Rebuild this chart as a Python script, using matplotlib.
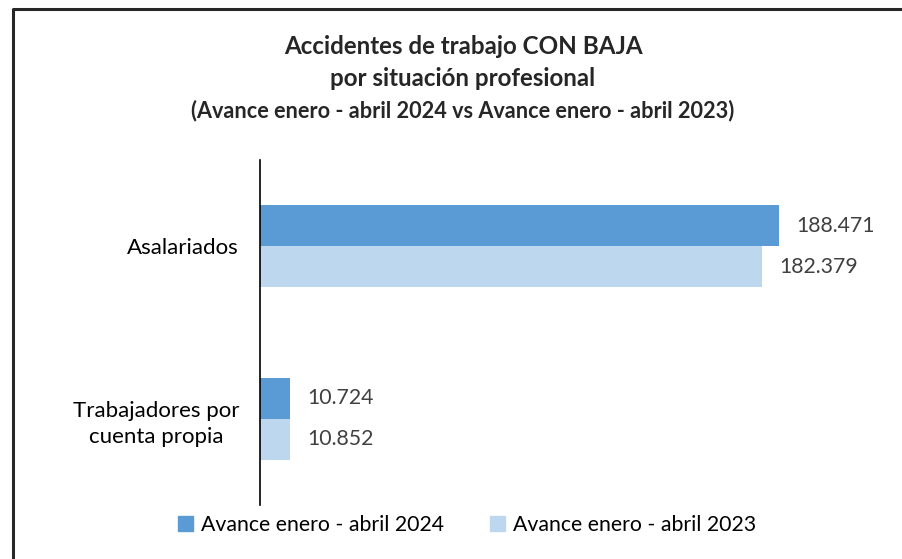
import matplotlib
matplotlib.use("Agg")
import matplotlib.pyplot as plt
from matplotlib.lines import Line2D
from matplotlib.patches import Patch
import numpy as np

categories = ["Asalariados", "Trabajadores por\ncuenta propia"]
series_names = ["Avance enero - abril 2024", "Avance enero - abril 2023"]
values_2024 = [188471, 10724]
values_2023 = [182379, 10852]
labels_2024 = ["188.471", "10.724"]
labels_2023 = ["182.379", "10.852"]

c2024 = "#5b9bd5"
c2023 = "#bdd7ee"
FONT = "Lato"

W, H = 903, 559
fig = plt.figure(figsize=(W / 100, H / 100), dpi=100)
fig.patch.set_facecolor("white")

ax = fig.add_axes([260 / W, (H - 505) / H, (880 - 260) / W, (505 - 160) / H])
y = np.arange(len(categories))
h = 0.238
ax.barh(y - h / 2, values_2024, height=h, color=c2024, label=series_names[0])
ax.barh(y + h / 2, values_2023, height=h, color=c2023, label=series_names[1])
ax.set_ylim(1.5, -0.5)
ax.set_xlim(0, 225100)

for yi, v, lab in zip(y, values_2024, labels_2024):
    ax.text(v + 6300, yi - h / 2, lab, va="center", ha="left", fontsize=15.3,
            color="#404040", family=FONT)
for yi, v, lab in zip(y, values_2023, labels_2023):
    ax.text(v + 6300, yi + h / 2, lab, va="center", ha="left", fontsize=15.3,
            color="#404040", family=FONT)

ax.set_yticks(y)
ax.set_yticklabels(categories, fontsize=16, family=FONT, ha="right",
                   multialignment="center", linespacing=1.4)
ax.tick_params(axis="y", length=0, pad=15)
ax.set_xticks([])
for s in ["top", "right", "bottom"]:
    ax.spines[s].set_visible(False)
ax.spines["left"].set_color("black")
ax.spines["left"].set_linewidth(1.2)

# Titles
fig.text(463 / W, 1 - 47 / H, "Accidentes de trabajo CON BAJA", ha="center", va="center",
         fontsize=17.4, fontweight="bold", family=FONT, color="#262626")
fig.text(463 / W, 1 - 78 / H, "por situación profesional", ha="center", va="center",
         fontsize=17.4, fontweight="bold", family=FONT, color="#262626")
fig.text(463 / W, 1 - 111 / H, "(Avance enero - abril 2024 vs Avance enero - abril 2023)",
         ha="center", va="center", fontsize=15.6, fontweight="bold", family=FONT, color="#262626")

# Legend
handles = [Patch(color=c2024), Patch(color=c2023)]
leg = fig.legend(handles, series_names, loc="center", bbox_to_anchor=(467 / W, 1 - 525 / H),
                 ncol=2, frameon=False, prop={"family": FONT, "size": 15.3},
                 handlelength=0.7, handleheight=0.7, handletextpad=0.4, columnspacing=2.15)

# Partial border (top and left)
fig.add_artist(Line2D([13 / W, 13 / W, 1], [0, 1 - 8.5 / H, 1 - 8.5 / H],
                      transform=fig.transFigure, color="#262626", linewidth=2.2))

fig.savefig("out.png", dpi=100)
